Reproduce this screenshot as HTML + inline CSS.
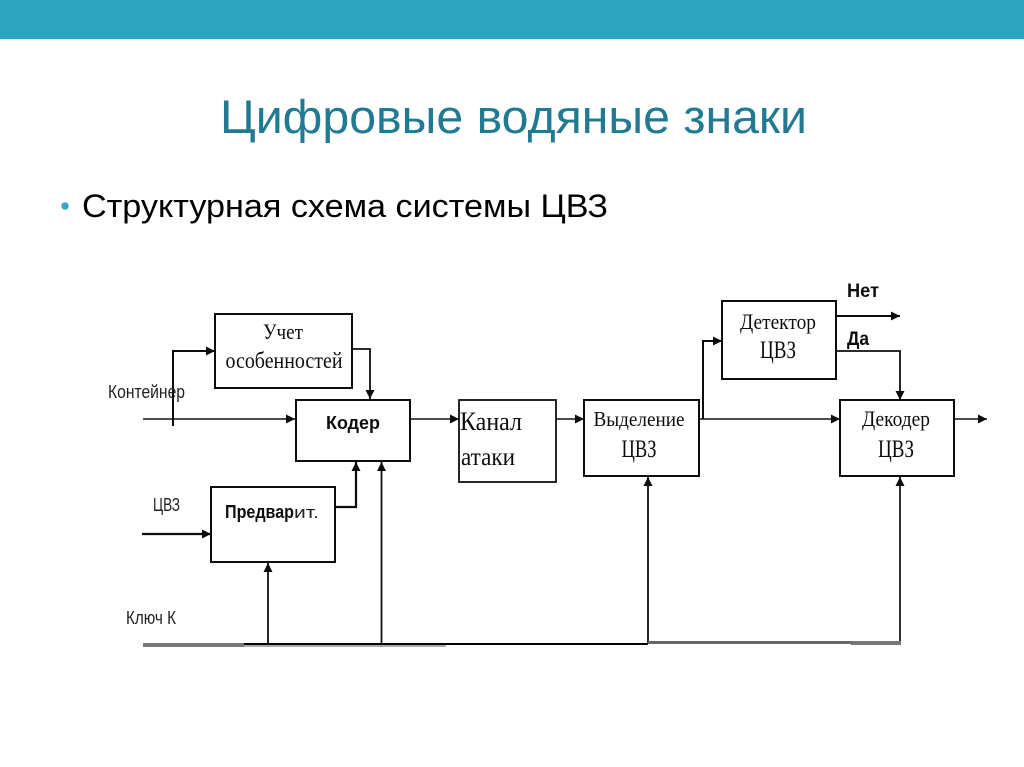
<!DOCTYPE html>
<html lang="ru"><head><meta charset="utf-8"><title>Цифровые водяные знаки</title>
<style>html,body{margin:0;padding:0;background:#fff}svg{display:block}
.s{font-family:"Liberation Serif","DejaVu Serif",serif;fill:#111}
.a{font-family:"Liberation Sans","DejaVu Sans",sans-serif;fill:#222}
.b{font-family:"Liberation Sans","DejaVu Sans",sans-serif;font-weight:bold;fill:#111}
</style></head><body>
<svg width="1024" height="767" viewBox="0 0 1024 767" xmlns="http://www.w3.org/2000/svg">
<defs>
<marker id="m" markerUnits="userSpaceOnUse" markerWidth="12" markerHeight="12" refX="9" refY="6" orient="auto"><path d="M0,1.500L9,6L0,10.500Z" fill="#111"/></marker>
<filter id="f" x="-2%" y="-2%" width="104%" height="104%"><feGaussianBlur stdDeviation="0.3"/></filter>
</defs>
<rect width="1024" height="767" fill="#fff"/>
<rect x="0" y="0" width="1024" height="39" fill="#2ca3bf"/>
<text x="220" y="133" font-family="Liberation Sans,sans-serif" font-size="47" fill="#207a92" textLength="587" lengthAdjust="spacingAndGlyphs">Цифровые водяные знаки</text>
<circle cx="65" cy="206" r="3.7" fill="#38a6c4"/>
<text x="82" y="217" font-family="Liberation Sans,sans-serif" font-size="32" fill="#000" textLength="526" lengthAdjust="spacingAndGlyphs">Структурная схема системы ЦВЗ</text>

<g filter="url(#f)">
<g fill="#fff" stroke="#111" stroke-width="2">
<rect x="215" y="314" width="137" height="74"/>
<rect x="296" y="400" width="114" height="61"/>
<rect x="211" y="487" width="124" height="75"/>
<rect x="459" y="400" width="97" height="82" stroke-width="1.800"/>
<rect x="584" y="400" width="115" height="76"/>
<rect x="722" y="301" width="114" height="78"/>
<rect x="840" y="400" width="114" height="76"/>
</g>

<g fill="none" stroke="#111" stroke-width="1.500">
<path d="M143 419H295" marker-end="url(#m)"/>
<path d="M173 426V351H215" stroke-width="2" marker-end="url(#m)"/>
<path d="M352 349H370V399" stroke-width="1.800" marker-end="url(#m)"/>
<path d="M410 419H459" marker-end="url(#m)"/>
<path d="M556 419H584" marker-end="url(#m)"/>
<path d="M699 419H840" marker-end="url(#m)"/>
<path d="M703 419V341H722" stroke-width="2" marker-end="url(#m)"/>
<path d="M836 316H900" stroke-width="2" marker-end="url(#m)"/>
<path d="M836 351H900V400" stroke-width="1.800" marker-end="url(#m)"/>
<path d="M954 419H987" marker-end="url(#m)"/>
<path d="M335 507H356V462" stroke-width="2.200" marker-end="url(#m)"/>
<path d="M142 534H211" stroke-width="2.200" marker-end="url(#m)"/>
<path d="M268 644V563" stroke-width="1.800" marker-end="url(#m)"/>
<path d="M381.500 644V462" stroke-width="1.800" marker-end="url(#m)"/>
<path d="M648 644V477" stroke-width="1.800" marker-end="url(#m)"/>
<path d="M900 643V477" stroke-width="2" stroke="#333" marker-end="url(#m)"/>
</g>
<rect x="143" y="643" width="101" height="4" fill="#777"/>
<rect x="244" y="645" width="202" height="2" fill="#aaa"/>
<rect x="244" y="643" width="404" height="2" fill="#000"/>
<rect x="648" y="641" width="203" height="3" fill="#666"/>
<rect x="851" y="641" width="50" height="4" fill="#777"/>

<g class="s" text-anchor="middle">
<text x="283" y="339" font-size="22" textLength="40" lengthAdjust="spacingAndGlyphs">Учет</text>
<text x="284" y="368" font-size="23" textLength="117" lengthAdjust="spacingAndGlyphs">особенностей</text>
<text x="639" y="426" font-size="21" textLength="91" lengthAdjust="spacingAndGlyphs">Выделение</text>
<text x="639" y="457" font-size="25" textLength="35" lengthAdjust="spacingAndGlyphs">ЦВЗ</text>
<text x="778" y="329" font-size="22" textLength="76" lengthAdjust="spacingAndGlyphs">Детектор</text>
<text x="778" y="358" font-size="25" textLength="36" lengthAdjust="spacingAndGlyphs">ЦВЗ</text>
<text x="896" y="426" font-size="22" textLength="68" lengthAdjust="spacingAndGlyphs">Декодер</text>
<text x="896" y="457" font-size="25" textLength="36" lengthAdjust="spacingAndGlyphs">ЦВЗ</text>
</g>
<text class="s" x="460" y="430" font-size="26" textLength="62" lengthAdjust="spacingAndGlyphs">Канал</text>
<text class="s" x="461" y="465" font-size="25" textLength="54" lengthAdjust="spacingAndGlyphs">атаки</text>

<text class="b" x="326" y="429" font-size="18" textLength="54" lengthAdjust="spacingAndGlyphs">Кодер</text>
<text class="b" x="225" y="518" font-size="18" textLength="69" lengthAdjust="spacingAndGlyphs">Предвар</text>
<text class="a" x="294" y="518" font-size="17" textLength="25" lengthAdjust="spacingAndGlyphs">ит.</text>
<text class="b" x="847" y="297" font-size="19" textLength="32" lengthAdjust="spacingAndGlyphs">Нет</text>
<text class="b" x="847" y="345" font-size="19" textLength="22" lengthAdjust="spacingAndGlyphs">Да</text>

<text class="a" x="108" y="398" font-size="18" textLength="77" lengthAdjust="spacingAndGlyphs">Контейнер</text>
<text class="a" x="153" y="511" font-size="18" textLength="27" lengthAdjust="spacingAndGlyphs">ЦВЗ</text>
<text class="a" x="126" y="624" font-size="18" textLength="50" lengthAdjust="spacingAndGlyphs">Ключ К</text>
</g>
</svg>
</body></html>
